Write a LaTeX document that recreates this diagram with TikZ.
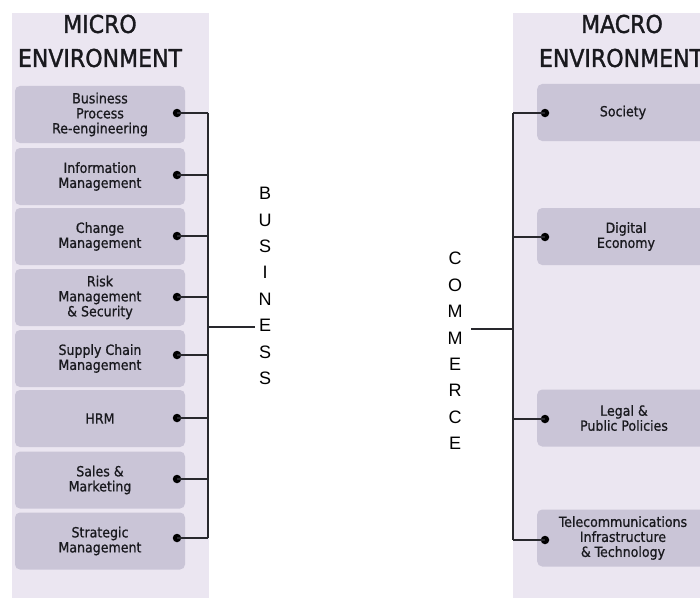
\documentclass[tikz,border=0pt]{standalone}
\usepackage{fontspec}
\setmainfont{DejaVu Sans Condensed}
\newfontfamily\boxfont{DejaVu Sans Condensed}[FakeBold=0.8]
\newfontfamily\titlefont{DejaVu Sans Condensed}[FakeBold=1.4]
\newfontfamily\letterfont{Liberation Sans}
\definecolor{panelbg}{RGB}{235,230,241}
\definecolor{boxbg}{RGB}{202,197,215}
\definecolor{linecol}{RGB}{40,40,45}
\definecolor{txtcol}{RGB}{25,25,30}
\begin{document}
\begin{tikzpicture}[x=1pt,y=-1pt,
  panel/.style={fill=panelbg,draw=none},
  box/.style={fill=boxbg,draw=none,rounded corners=5pt,minimum width=170pt,minimum height=57pt,align=center,text=txtcol,font=\boxfont\fontsize{14}{15}\selectfont,inner sep=0pt},
  rbox/.style={box,minimum width=175pt},
  btext/.style={align=center,text=txtcol,font=\boxfont\fontsize{14}{15}\selectfont,inner sep=0pt},
  dot/.style={circle,fill=black,inner sep=0pt,minimum size=8.5pt},
  conn/.style={draw=linecol,line width=1.3pt},
  title/.style={font=\titlefont\fontsize{24.5}{28}\selectfont,text=txtcol,inner sep=0pt},
  vlet/.style={font=\letterfont\fontsize{18}{26.4}\selectfont,align=center,inner sep=0pt}]
\useasboundingbox (0,0) rectangle (700,599);
\fill[white] (0,0) rectangle (700,599);
% panels
\path[panel] (12,13) rectangle (209,598);
\path[panel] (513,13) rectangle (720,598);
% titles
\node[title] (micro) at (100,24) {MICRO};
\node[title] (microenv) at (100,58) {ENVIRONMENT};
\node[title] (macro) at (622,24) {MACRO};
\node[title] (macroenv) at (621,58) {ENVIRONMENT};
% left boxes
\node[box] (b1) at (100,114.5) {Business\\Process\\Re-engineering};
\node[box] (b2) at (100,176.5) {Information\\Management};
\node[box] (b3) at (100,236.5) {Change\\Management};
\node[box] (b4) at (100,297.5) {Risk\\Management\\\& Security};
\node[box] (b5) at (100,358.5) {Supply Chain\\Management};
\node[box] (b6) at (100,418.5) {HRM};
\node[box] (b7) at (100,480) {Sales \&\\Marketing};
\node[box] (b8) at (100,541) {Strategic\\Management};
% right boxes
\node[rbox,anchor=west] (r1) at (537,112.5) {};
\node[rbox,anchor=west] (r2) at (537,236.5) {};
\node[rbox,anchor=west] (r3) at (537,418) {};
\node[rbox,anchor=west] (r4) at (537,538) {};
\node[btext] (t1) at (623,112.5) {Society};
\node[btext] (t2) at (626,236.5) {Digital\\Economy};
\node[btext] (t3) at (624,418) {Legal \&\\Public Policies};
\node[btext] (t4) at (623,538) {Telecommunications\\Infrastructure\\\& Technology};
% left dots and bus
\foreach \i/\y in {1/113,2/175,3/236,4/297,5/355,6/418,7/479,8/538}{
  \node[dot] (d\i) at (177,\y) {};
  \coordinate (j\i) at (208,\y);
  \draw[conn] (d\i.center) -- (j\i);
}
\draw[conn] (j1) -- (j8);
\coordinate (jm) at (208,327);
\coordinate (bizend) at (255,327);
\draw[conn] (jm) -- (bizend);
\node[vlet] (business) at (265,286) {B\\U\\S\\I\\N\\E\\S\\S};
% right dots and bus
\foreach \i/\y in {1/113,2/237,3/419,4/540}{
  \node[dot] (e\i) at (545,\y) {};
  \coordinate (k\i) at (513,\y);
  \draw[conn] (e\i.center) -- (k\i);
}
\draw[conn] (k1) -- (k4);
\coordinate (km) at (513,329);
\coordinate (comend) at (471,329);
\draw[conn] (km) -- (comend);
\node[vlet] (commerce) at (455,351) {C\\O\\M\\M\\E\\R\\C\\E};
\end{tikzpicture}
\end{document}
